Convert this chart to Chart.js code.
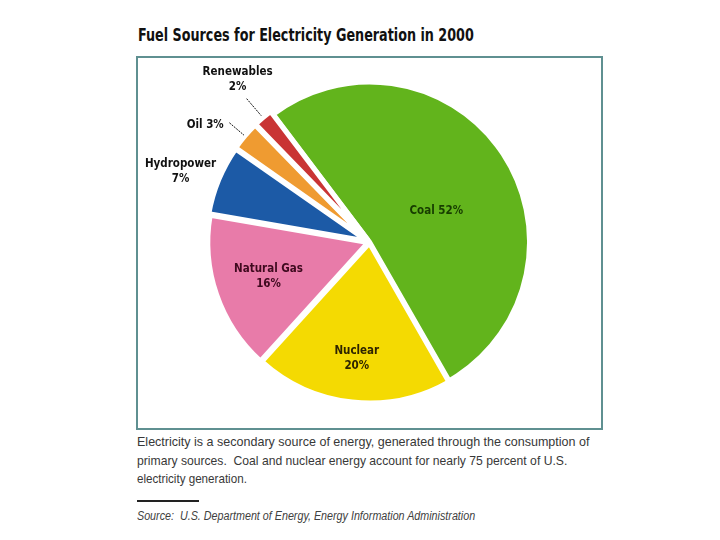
<!DOCTYPE html>
<html>
<head>
<meta charset="utf-8">
<script src="https://cdn.jsdelivr.net/npm/chart.js@4/dist/chart.umd.min.js"></script>
<style>
  body { margin: 0; background: #fff; width: 720px; height: 540px; position: relative; overflow: hidden; }
  .fit { position: absolute; white-space: nowrap; transform-origin: 0 50%; }
  #title { left: 138px; top: 25px; font: bold 17px "DejaVu Sans Condensed", "DejaVu Sans", sans-serif; color: #111; }
  #box { position: absolute; left: 136px; top: 56px; width: 467px; height: 374px; box-sizing: border-box; border: 2px solid #5f9091; }
  #pie { position: absolute; left: 138px; top: 58px; }
  .cap { left: 137px; font: 13px "Liberation Sans", Arial, sans-serif; color: #383838; }
  #rule { position: absolute; left: 137px; top: 500px; width: 62px; height: 2px; background: #222; }
  #src { left: 137px; top: 509px; font: italic 12px "Liberation Sans", Arial, sans-serif; color: #404040; }
</style>
</head>
<body>
<div id="title" class="fit" data-w="336">Fuel Sources for Electricity Generation in 2000</div>
<div id="box"></div>
<canvas id="pie" width="463" height="370"></canvas>
<div class="fit cap" style="top:434px" data-w="452">Electricity is a secondary source of energy, generated through the consumption of</div>
<div class="fit cap" style="top:453px" data-w="430">primary sources.&nbsp; Coal and nuclear energy account for nearly 75 percent of U.S.</div>
<div class="fit cap" style="top:471px" data-w="110">electricity generation.</div>
<div id="rule"></div>
<div id="src" class="fit" data-w="338">Source:&nbsp; U.S. Department of Energy, Energy Information Administration</div>
<script>
// data
const sources = ['Coal', 'Nuclear', 'Natural Gas', 'Hydropower', 'Oil', 'Renewables'];
const shares = [52, 20, 16, 7, 3, 2];

// look
const sliceColors = ['#62b41c', '#f4da02', '#e87ba9', '#1c5aa6', '#ef9b31', '#c93434'];
const textColors = ['#173c00', '#2e2400', '#3f0a1f', '#111', '#111', '#111'];
const explode = [0, 4, 6, 8, 8, 8];
const twoLines = [false, true, true, true, false, true];
const labelDist = [0.46, 0.71, 0.63, 1.21, 1.21, 1.26];
const labelTurn = [8.5, 0, 0, -2, -5, 1.6];
const leader = [null, null, null, null, [1.1, 0.98], [1.13, 0.99]];

document.querySelectorAll('.fit').forEach(el => {
  const w = el.scrollWidth;
  el.style.transform = 'scaleX(' + (Number(el.dataset.w) / w) + ')';
});

const sliceLabels = {
  id: 'sliceLabels',
  afterDatasetsDraw(chart) {
    const ctx = chart.ctx;
    const meta = chart.getDatasetMeta(0);
    ctx.save();
    ctx.font = 'bold 11.5px "DejaVu Sans Condensed", "DejaVu Sans", sans-serif';
    ctx.textAlign = 'center';
    ctx.textBaseline = 'middle';
    meta.data.forEach((arc, i) => {
      const p = arc.getProps(['x', 'y', 'startAngle', 'endAngle', 'outerRadius'], true);
      const mid = (p.startAngle + p.endAngle) / 2;
      if (leader[i]) {
        const [a, b] = leader[i];
        const r0 = p.outerRadius * a + explode[i], r1 = p.outerRadius * b + explode[i];
        ctx.strokeStyle = '#111';
        ctx.lineWidth = 1;
        ctx.setLineDash([2, 1]);
        ctx.beginPath();
        ctx.moveTo(p.x + Math.cos(mid) * r0, p.y + Math.sin(mid) * r0);
        ctx.lineTo(p.x + Math.cos(mid) * r1, p.y + Math.sin(mid) * r1);
        ctx.stroke();
        ctx.setLineDash([]);
      }
      const ang = mid + labelTurn[i] * Math.PI / 180;
      const r = p.outerRadius * labelDist[i] + explode[i];
      const lx = p.x + Math.cos(ang) * r;
      const ly = p.y + Math.sin(ang) * r;
      const lines = twoLines[i] ? [sources[i], shares[i] + '%'] : [sources[i] + ' ' + shares[i] + '%'];
      ctx.fillStyle = textColors[i];
      lines.forEach((t, k) => {
        ctx.fillText(t, lx, ly + (k - (lines.length - 1) / 2) * 15);
      });
    });
    ctx.restore();
  }
};

new Chart(document.getElementById('pie'), {
  type: 'pie',
  data: {
    labels: sources,
    datasets: [{
      data: shares,
      backgroundColor: sliceColors,
      borderColor: '#ffffff',
      borderWidth: 5,
      offset: explode,
      hoverOffset: 0,
      radius: 160
    }]
  },
  options: {
    responsive: false,
    animation: false,
    rotation: -37,
    layout: { padding: { bottom: 2 } },
    plugins: { legend: { display: false }, tooltip: { enabled: false } }
  },
  plugins: [sliceLabels]
});
</script>
</body>
</html>
